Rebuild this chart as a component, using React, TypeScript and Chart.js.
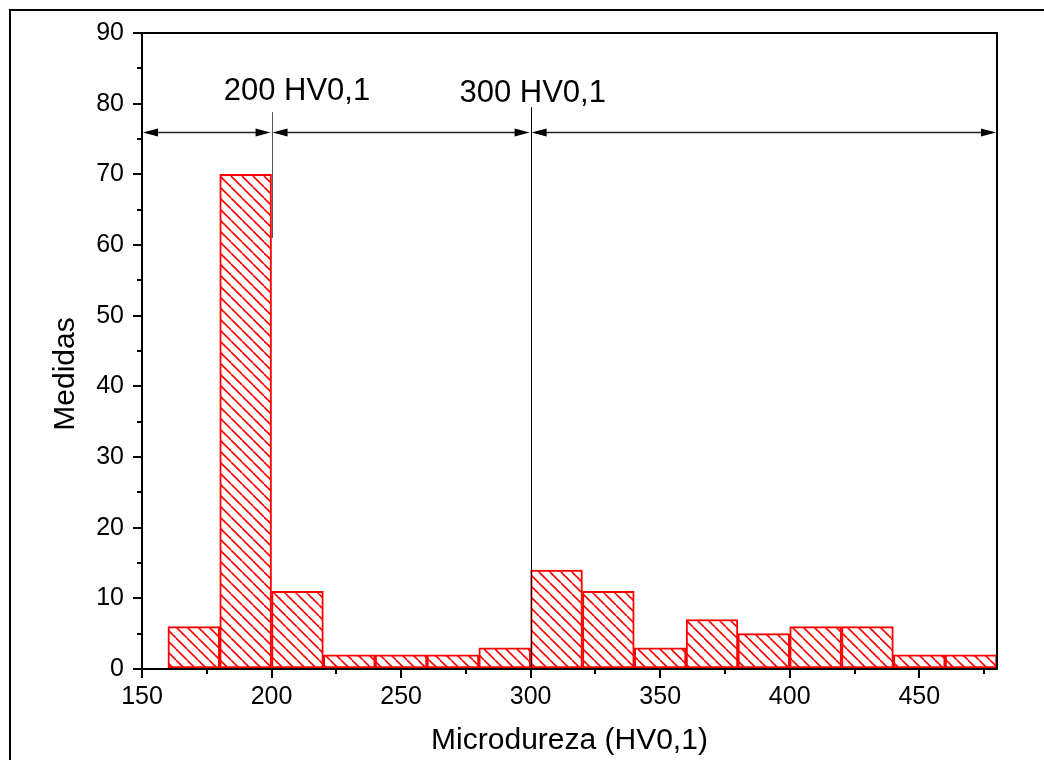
import React, { useEffect, useRef } from "react";
import { Chart, registerables } from "chart.js";

Chart.register(...registerables);

// ---- data ----
const binCenters = [170, 190, 210, 230, 250, 270, 290, 310, 330, 350, 370, 390, 410, 430, 450, 470];
const counts = [6, 70, 11, 2, 2, 2, 3, 14, 11, 3, 7, 5, 6, 6, 2, 2];

const xMin = 150;
const xMax = 480;
const yMin = 0;
const yMax = 90;
const xTickValues = [150, 200, 250, 300, 350, 400, 450];
const xMinorTicks = [175, 225, 275, 325, 375, 425, 475];
const yMinorTicks = [5, 15, 25, 35, 45, 55, 65, 75, 85];

const xTitle = "Microdureza (HV0,1)";
const yTitle = "Medidas";

// annotation values (data coordinates)
const markerValues = [200, 300];
const markerTops = [78.8, 79.5];
const markerBottoms = [61, 0];
const rangeStarts = [150, 200, 300];
const rangeEnds = [200, 300, 480];
const arrowLevel = 76;
const labelTexts = ["200 HV0,1", "300 HV0,1"];
const labelXs = [209.8, 300.8];
const labelYs = [80.5, 80.2];

const FONT = "'Liberation Sans', Arial, sans-serif";

function makeHatch(): CanvasPattern | string {
  const size = 11;
  const c = document.createElement("canvas");
  c.width = size;
  c.height = size;
  const g = c.getContext("2d");
  if (!g) return "rgba(255,0,0,0.2)";
  g.fillStyle = "#ffffff";
  g.fillRect(0, 0, size, size);
  g.strokeStyle = "rgb(255,0,0)";
  g.lineWidth = 1.6;
  for (let k = -1; k <= 1; k++) {
    g.beginPath();
    g.moveTo(k * size, 0);
    g.lineTo(k * size + size, size);
    g.stroke();
  }
  const p = g.createPattern(c, "repeat");
  return p || "rgba(255,0,0,0.2)";
}

function arrowHead(ctx: CanvasRenderingContext2D, tipX: number, y: number, dir: number) {
  const len = 15;
  const half = 4;
  ctx.beginPath();
  ctx.moveTo(tipX, y);
  ctx.lineTo(tipX - dir * len, y - half);
  ctx.lineTo(tipX - dir * len, y + half);
  ctx.closePath();
  ctx.fill();
}

const decorations = {
  id: "decorations",
  beforeDraw(chart: any) {
    const ctx = chart.ctx as CanvasRenderingContext2D;
    ctx.save();
    ctx.fillStyle = "#ffffff";
    ctx.fillRect(0, 0, chart.width, chart.height);
    ctx.strokeStyle = "#000";
    ctx.lineWidth = 2;
    ctx.beginPath();
    ctx.moveTo(10, chart.height + 5);
    ctx.lineTo(10, 10);
    ctx.lineTo(chart.width + 5, 10);
    ctx.stroke();
    ctx.restore();
  },
  afterDraw(chart: any) {
    const ctx = chart.ctx as CanvasRenderingContext2D;
    const xs = chart.scales.x;
    const ys = chart.scales.y;
    const area = chart.chartArea;
    ctx.save();

    // top and right frame of plot
    ctx.strokeStyle = "#000";
    ctx.lineWidth = 2;
    ctx.beginPath();
    ctx.moveTo(area.left, area.top);
    ctx.lineTo(area.right, area.top);
    ctx.lineTo(area.right, area.bottom);
    ctx.stroke();

    // minor ticks
    ctx.lineWidth = 2;
    ctx.beginPath();
    xMinorTicks.forEach((v) => {
      const px = Math.round(xs.getPixelForValue(v));
      ctx.moveTo(px, area.bottom);
      ctx.lineTo(px, area.bottom + 5);
    });
    yMinorTicks.forEach((v) => {
      const py = Math.round(ys.getPixelForValue(v));
      ctx.moveTo(area.left, py);
      ctx.lineTo(area.left - 5, py);
    });
    ctx.stroke();

    // vertical markers
    ctx.lineWidth = 1;
    markerValues.forEach((v, i) => {
      const px = Math.round(xs.getPixelForValue(v)) + 0.5;
      ctx.strokeStyle = i === 0 ? "#555" : "#000";
      ctx.beginPath();
      ctx.moveTo(px, ys.getPixelForValue(markerTops[i]));
      ctx.lineTo(px, ys.getPixelForValue(markerBottoms[i]));
      ctx.stroke();
    });

    // range arrows
    const ay = Math.round(ys.getPixelForValue(arrowLevel)) + 0.5;
    ctx.strokeStyle = "#222";
    ctx.fillStyle = "#000";
    ctx.lineWidth = 1.5;
    rangeStarts.forEach((s, i) => {
      const x1 = xs.getPixelForValue(s) + 1;
      const x2 = xs.getPixelForValue(rangeEnds[i]) - 1;
      ctx.beginPath();
      ctx.moveTo(x1 + 4, ay);
      ctx.lineTo(x2 - 4, ay);
      ctx.stroke();
      arrowHead(ctx, x1, ay, -1);
      arrowHead(ctx, x2, ay, 1);
    });

    // labels
    ctx.fillStyle = "#000";
    ctx.font = `31px ${FONT}`;
    ctx.textAlign = "center";
    ctx.textBaseline = "alphabetic";
    labelTexts.forEach((t, i) => {
      ctx.fillText(t, xs.getPixelForValue(labelXs[i]), ys.getPixelForValue(labelYs[i]));
    });

    // axis titles
    ctx.font = `30px ${FONT}`;
    ctx.fillText(xTitle, (area.left + area.right) / 2, 749);
    ctx.save();
    ctx.translate(74, 374);
    ctx.rotate(-Math.PI / 2);
    ctx.fillText(yTitle, 0, 0);
    ctx.restore();

    ctx.restore();
  },
};

export default function App() {
  const ref = useRef<HTMLCanvasElement | null>(null);

  useEffect(() => {
    if (!ref.current) return;
    const hatch = makeHatch();
    const chart = new Chart(ref.current, {
      type: "bar",
      data: {
        datasets: [
          {
            data: binCenters.map((c, i) => ({ x: c, y: counts[i] })),
            backgroundColor: hatch as any,
            borderColor: "rgb(255,0,0)",
            borderWidth: 2,
            borderSkipped: false,
            barPercentage: 1,
            categoryPercentage: 1,
          },
        ],
      },
      options: {
        animation: false,
        responsive: false,
        maintainAspectRatio: false,
        devicePixelRatio: 1,
        layout: { padding: { top: 33, right: 47, left: 0, bottom: 0 } },
        plugins: {
          legend: { display: false },
          tooltip: { enabled: false },
          title: { display: false },
        },
        scales: {
          x: {
            type: "linear",
            min: xMin,
            max: xMax,
            offset: false,
            afterBuildTicks: (scale: any) => {
              scale.ticks = xTickValues.map((v) => ({ value: v }));
            },
            afterFit: (scale: any) => {
              scale.height = 91;
            },
            grid: {
              display: true,
              offset: false,
              drawOnChartArea: false,
              drawTicks: true,
              tickLength: 9,
              color: "#000",
              lineWidth: 2,
            },
            border: { display: true, color: "#000", width: 2 },
            ticks: {
              color: "#000",
              font: { family: FONT, size: 25 },
              padding: 4,
              maxRotation: 0,
              autoSkip: false,
            },
          },
          y: {
            type: "linear",
            min: yMin,
            max: yMax,
            ticks: {
              stepSize: 10,
              color: "#000",
              font: { family: FONT, size: 25 },
              padding: 9,
            },
            afterFit: (scale: any) => {
              scale.width = 142;
            },
            grid: {
              display: true,
              drawOnChartArea: false,
              drawTicks: true,
              tickLength: 9,
              color: "#000",
              lineWidth: 2,
            },
            border: { display: true, color: "#000", width: 2 },
          },
        },
      },
      plugins: [decorations],
    });
    return () => chart.destroy();
  }, []);

  return (
    <div style={{ position: "fixed", left: 0, top: 0, width: 1044, height: 760, background: "#fff" }}>
      <canvas ref={ref} width={1044} height={760} style={{ display: "block", width: 1044, height: 760 }} />
    </div>
  );
}
